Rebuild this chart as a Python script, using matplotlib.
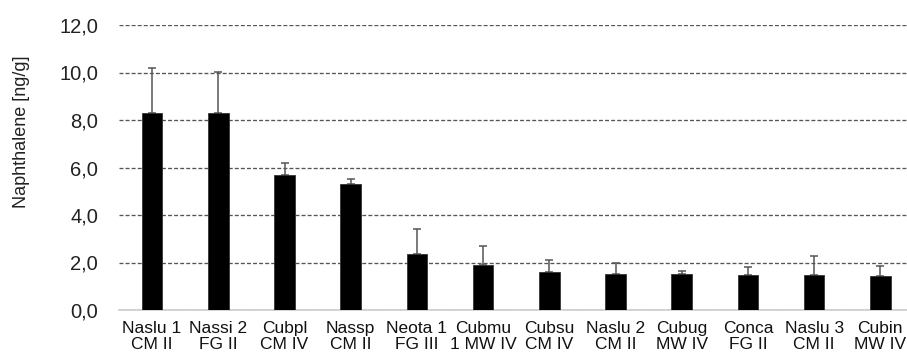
import matplotlib
matplotlib.use("Agg")
import matplotlib.pyplot as plt
import numpy as np

plt.rcParams['font.family'] = ['Liberation Sans', 'DejaVu Sans']

categories = ["Naslu 1\nCM II", "Nassi 2\nFG II", "Cubpl\nCM IV", "Nassp\nCM II",
              "Neota 1\nFG III", "Cubmu\n1 MW IV", "Cubsu\nCM IV", "Naslu 2\nCM II",
              "Cubug\nMW IV", "Conca\nFG II", "Naslu 3\nCM II", "Cubin\nMW IV"]
means = [8.31, 8.31, 5.70, 5.31, 2.36, 1.89, 1.59, 1.53, 1.50, 1.49, 1.47, 1.44]
upper_err = [1.88, 1.72, 0.48, 0.21, 1.06, 0.80, 0.52, 0.46, 0.14, 0.31, 0.82, 0.43]
yticks = [0, 2, 4, 6, 8, 10, 12]
ytick_labels = ["0,0", "2,0", "4,0", "6,0", "8,0", "10,0", "12,0"]

fig = plt.figure(figsize=(9.07, 3.56), dpi=100)
ax = fig.add_axes([119 / 907, 46 / 356, (907 - 119) / 907, (310 - 25) / 356])

x = np.arange(len(categories))
ax.bar(x, means, width=0.31, color="black", edgecolor="#333333", linewidth=0.6, zorder=3,
       yerr=[np.zeros(len(upper_err)), upper_err],
       error_kw=dict(ecolor="#555555", elinewidth=1.1, capsize=3, capthick=1.1, zorder=2))

ax.set_xlim(-0.5, -0.5 + (907 - 119) / 66.2)
ax.set_ylim(0, 12)
ax.set_yticks(yticks)
ax.set_yticklabels(ytick_labels, fontsize=14.5, color="#222222")
ax.set_xticks(x)
ax.set_xticklabels(categories, fontsize=12.5, color="#111111", linespacing=1.05)

ax.yaxis.grid(True, linestyle=(0, (3.0, 1.6)), color="#555555", linewidth=0.95, zorder=0)
for spine in ["top", "right", "left"]:
    ax.spines[spine].set_visible(False)
ax.spines["bottom"].set_color("#cccccc")
ax.spines["bottom"].set_linewidth(1.2)
ax.tick_params(axis="both", length=0)
ax.tick_params(axis="y", pad=15)
ax.tick_params(axis="x", pad=8)

fig.text(22 / 907, 1 - 132 / 356, "Naphthalene [ng/g]", fontsize=13, color="#222222",
         rotation=90, ha="center", va="center")

fig.savefig("out.png", dpi=100, facecolor="white")
